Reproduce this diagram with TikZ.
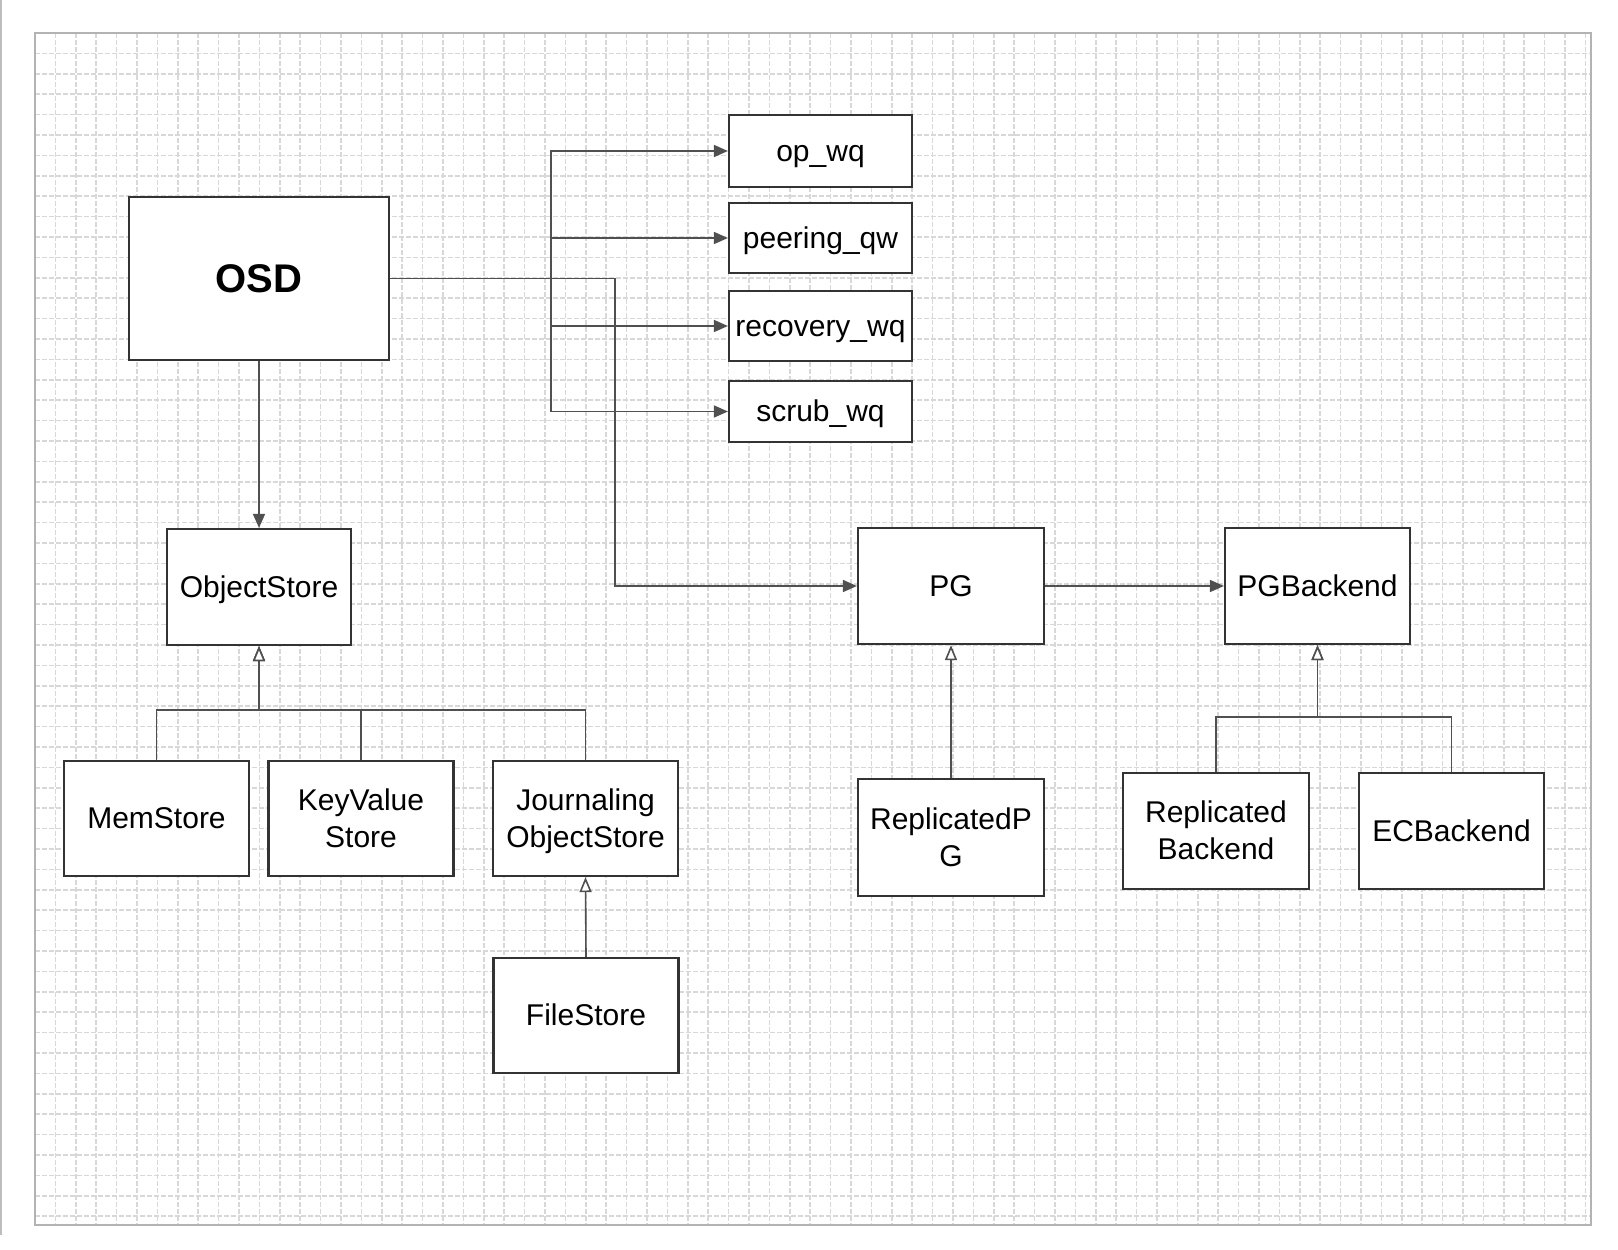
\documentclass[tikz,border=0pt]{standalone}
\usepackage{fontspec}
\setmainfont{Liberation Sans}
\usetikzlibrary{arrows.meta}
\definecolor{gridc}{HTML}{D8D8D8}
\definecolor{framec}{HTML}{B3B3B3}
\definecolor{edgec}{HTML}{BDBDBD}
\definecolor{boxc}{HTML}{333333}
\definecolor{linec}{HTML}{505050}
\newcommand{\ds}{\rule[-0.2535em]{0pt}{1.2em}}
\tikzset{
  cls/.style={draw=boxc, line width=2.2pt, fill=white, minimum width=185pt, minimum height=115pt,
    inner sep=0pt, align=center, font=\fontsize{30}{37}\selectfont},
  queue/.style={cls, minimum width=183pt},
  gridline/.style={draw=gridc, line width=1.7pt, dash pattern=on 4.5pt off 2.5pt},
  assoc/.style={draw=linec, line width=1.6pt, -{Triangle[length=14pt,width=12pt]}},
  inh/.style={draw=linec, line width=1.6pt, -{Triangle[open,length=15pt,width=12pt,fill=white]}},
}
\begin{document}
\begin{tikzpicture}[x=1pt,y=-1pt]
\useasboundingbox (0,0) rectangle (1618,1250);
\fill[white] (0,0) rectangle (1618,1250);
% left edge line
\draw[edgec, line width=2.5pt] (1,0) -- (1,1235);
% frame and grid
\fill[white] (35,33) rectangle (1591,1225);
\foreach \i in {1,...,76} {\draw[gridline] ({35+\i*20.4},33) -- ({35+\i*20.4},1225);}
\foreach \j in {1,...,58} {\draw[gridline] (35,{33+\j*20.4}) -- (1591,{33+\j*20.4});}
\draw[framec, line width=2.2pt] (35,33) rectangle (1591,1225);

% nodes
\node[cls, minimum width=260pt, minimum height=163pt, font=\fontsize{40}{48}\selectfont\bfseries] (osd) at (259,278.5) {\ds OSD};
\node[queue, minimum height=72pt] (opwq) at (820.5,151) {\ds op\_wq};
\node[queue, minimum height=70pt] (peer) at (820.5,238) {\ds peering\_qw};
\node[queue, minimum height=70pt] (recov) at (820.5,326) {\ds recovery\_wq};
\node[queue, minimum height=61pt] (scrub) at (820.5,411.5) {\ds scrub\_wq};
\node[cls, minimum width=184pt, minimum height=116pt] (os) at (259,587) {\ds ObjectStore};
\node[cls] (mem) at (156.5,818.5) {\ds MemStore};
\node[cls] (kv) at (361,818.5) {\ds KeyValue\\\ds Store};
\node[cls] (jo) at (585.5,818.5) {\ds Journaling\\\ds ObjectStore};
\node[cls] (fs) at (586,1015.5) {\ds FileStore};
\node[cls, minimum width=186pt, minimum height=116pt] (pg) at (951,586) {\ds PG};
\node[cls, minimum height=116pt] (pgb) at (1317.5,586) {\ds PGBackend};
\node[cls, minimum width=186pt, minimum height=117pt] (rpg) at (951,837.5) {\ds ReplicatedP\\\ds G};
\node[cls, minimum width=186pt, minimum height=116pt] (rb) at (1216,831) {\ds Replicated\\\ds Backend};
\node[cls, minimum height=116pt] (ec) at (1451.5,831) {\ds ECBackend};

% bus coordinates
\coordinate (qbus) at (551,0);
\coordinate (pgbus) at (615,0);
\coordinate (osbus) at (0,710);
\coordinate (pgbbus) at (0,717);

% associations
\draw[assoc] (osd.east) -- (osd.east -| qbus) |- (opwq.west);
\draw[assoc] (osd.east) -- (osd.east -| qbus) |- (peer.west);
\draw[assoc] (osd.east) -- (osd.east -| qbus) |- (recov.west);
\draw[assoc] (osd.east) -- (osd.east -| qbus) |- (scrub.west);
\draw[assoc] (osd.east) -- (osd.east -| pgbus) |- (pg.west);
\draw[assoc] (osd.south) -- (os.north);
\draw[assoc] (pg.east) -- (pgb.west);

% inheritance
\draw[inh] (mem.north) -- (mem.north |- osbus) -| (os.south);
\draw[inh] (kv.north) -- (kv.north |- osbus) -| (os.south);
\draw[inh] (jo.north) -- (jo.north |- osbus) -| (os.south);
\draw[inh] (fs.north) -- (jo.south);
\draw[inh] (rpg.north) -- (pg.south);
\draw[inh] (rb.north) -- (rb.north |- pgbbus) -| (pgb.south);
\draw[inh] (ec.north) -- (ec.north |- pgbbus) -| (pgb.south);
\end{tikzpicture}
\end{document}
